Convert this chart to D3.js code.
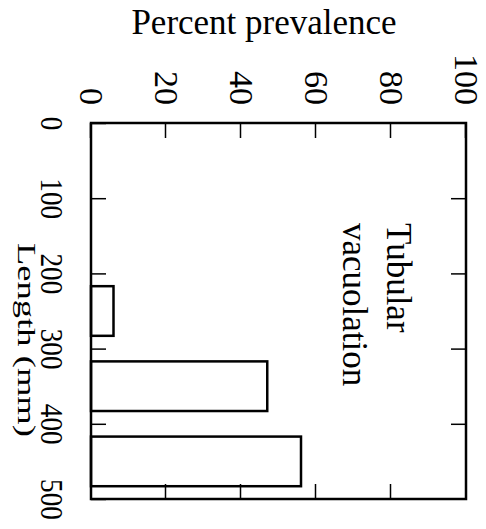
<!DOCTYPE html>
<html lang="en">
<head>
  <meta charset="UTF-8">
  <title>Tubular vacuolation</title>
  <style>
    body { margin: 0; background: #fff; }
    svg text { font-family: "Liberation Serif", "Times New Roman", serif; fill: #000; }
    .tick line { stroke: #000; stroke-width: 1.5; }
  </style>
</head>
<body>
  <div class="svg-target"></div>

  <script src="https://d3js.org/d3.v7.min.js"></script>
  <script>
    // data
    const lengthBins = [250, 350, 450];      // bar centres, mm
    const prevalence = [6, 47, 56];          // percent
    const lengthTicks = [0, 100, 200, 300, 400, 500];
    const percentTicks = [0, 20, 40, 60, 80, 100];

    const w = 486;
    const h = 529;
    const plotW = 376;   // length axis (runs down the page)
    const plotH = 375;   // percent axis (runs across the page)
    const barWidth = 66; // mm

    const svg = d3.select("div.svg-target")
      .append("svg")
      .attr("width", w)
      .attr("height", h);

    // the whole chart is drawn as a normal bar chart, then turned 90deg clockwise
    const g = svg.append("g")
      .attr("transform", "translate(466,123) rotate(90)");

    const xScale = d3.scaleLinear().domain([0, 500]).range([0, plotW]);
    const yScale = d3.scaleLinear().domain([0, 100]).range([plotH, 0]);

    const bars = lengthBins.map((d, i) => ({ len: d, val: prevalence[i] }));

    g.selectAll("rect.bar")
      .data(bars)
      .enter()
      .append("rect")
      .attr("class", "bar")
      .attr("x", (d) => xScale(d.len - barWidth / 2))
      .attr("width", xScale(barWidth) - xScale(0))
      .attr("y", (d) => yScale(d.val))
      .attr("height", (d) => plotH - yScale(d.val))
      .attr("fill", "#fff")
      .attr("stroke", "#000")
      .attr("stroke-width", 2.5);

    // length axis (left side of the page)
    const xAxis = d3.axisBottom(xScale)
      .tickValues(lengthTicks)
      .tickSizeInner(-15)
      .tickSizeOuter(0)
      .tickPadding(28);
    const xg = g.append("g")
      .attr("transform", "translate(0," + plotH + ")")
      .call(xAxis);
    xg.select(".domain").remove();
    xg.selectAll("text")
      .attr("font-size", 31)
      .attr("transform", "scale(0.88,1)");

    g.append("g")
      .call(d3.axisTop(xScale).tickValues([100, 200, 300, 400]).tickSize(-15).tickFormat(""))
      .select(".domain").remove();

    // percent axis (top of the page)
    const yAxis = d3.axisLeft(yScale)
      .tickValues(percentTicks)
      .tickSizeInner(-15)
      .tickSizeOuter(0)
      .tickPadding(18);
    const yg = g.append("g").call(yAxis);
    yg.select(".domain").remove();
    yg.selectAll("text").attr("font-size", 34);

    g.append("g")
      .attr("transform", "translate(" + plotW + ",0)")
      .call(d3.axisRight(yScale).tickValues([20, 40, 60, 80]).tickSize(-15).tickFormat(""))
      .select(".domain").remove();

    // frame
    g.append("rect")
      .attr("width", plotW)
      .attr("height", plotH)
      .attr("fill", "none")
      .attr("stroke", "#000")
      .attr("stroke-width", 2.5);

    // axis titles
    g.append("text")
      .attr("text-anchor", "middle")
      .attr("x", 217)
      .attr("y", 448)
      .attr("font-size", 26)
      .attr("textLength", 194)
      .attr("lengthAdjust", "spacingAndGlyphs")
      .text("Length (mm)");

    g.append("text")
      .attr("text-anchor", "middle")
      .attr("transform", "translate(-89,202) rotate(-90)")
      .attr("font-size", 35)
      .text("Percent prevalence");

    // panel label
    g.append("text")
      .attr("x", 100)
      .attr("y", 79)
      .attr("font-size", 35)
      .text("Tubular");
    g.append("text")
      .attr("x", 100)
      .attr("y", 123)
      .attr("font-size", 35)
      .text("vacuolation");
  </script>
</body>
</html>
